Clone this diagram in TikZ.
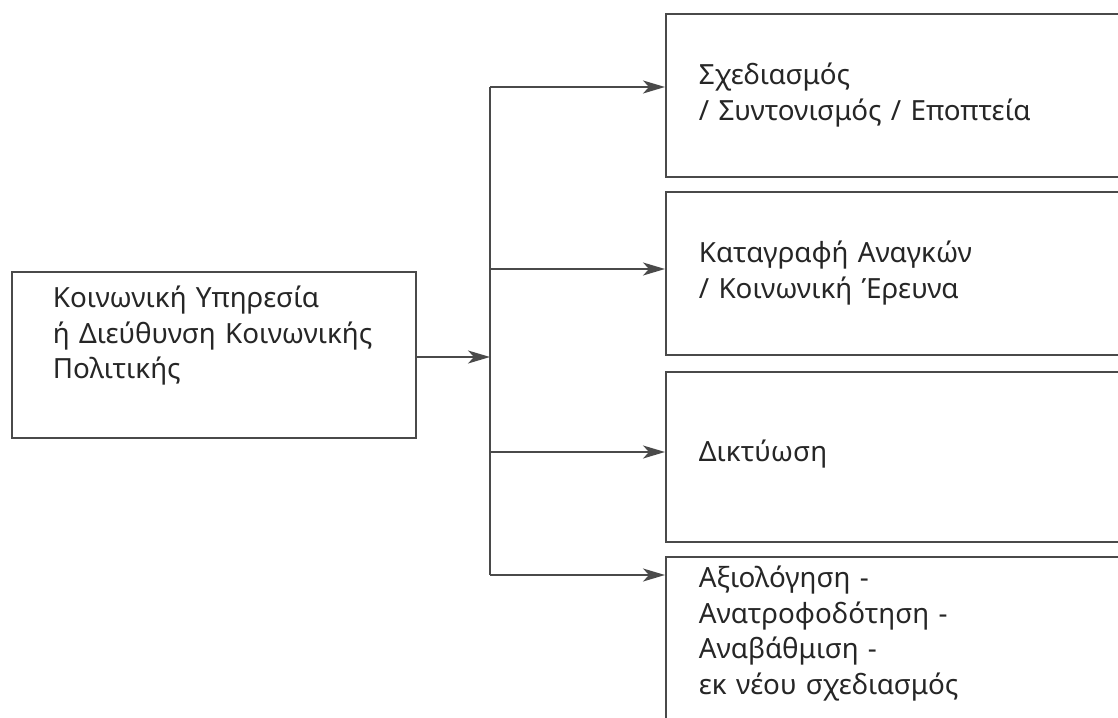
\documentclass[tikz,border=0pt]{standalone}
\usepackage{fontspec}
\setmainfont{Noto Sans}
\usepackage{tikz}
\usetikzlibrary{arrows.meta}
\usetikzlibrary{positioning}
\definecolor{ink}{HTML}{4A4A4A}
\tikzset{box/.style={draw=ink, line width=0.9pt, rectangle, align=left, anchor=north west, inner ysep=0pt, inner xsep=16.5pt, text width=204.5pt, text=black!85, font=\fontsize{13.9}{17.75}\selectfont}}
\tikzset{arr/.style={draw=ink, line width=0.9pt, -{Stealth[length=11pt,width=6.5pt,inset=3pt]}}}

\begin{document}
\begin{tikzpicture}[x=0.5pt, y=-0.5pt]
\useasboundingbox (0,0) rectangle (1118,717);
\clip (0,0) rectangle (1118,717);

% source
\node[box, inner xsep=20.5pt, text width=161pt, text height=18pt, text depth=65pt] (src) at (11,271)
  {Κοινωνική Υπηρεσία\\\mbox{ή Διεύθυνση Κοινωνικής}\\Πολιτικής};

% tasks
\node[box, text height=35.5pt, text depth=46pt] (r1) at (665,13)
  {Σχεδιασμός\\/ Συντονισμός / Εποπτεία};
\node[box, text height=35.5pt, text depth=46pt] (r2) at (665,191)
  {Καταγραφή Αναγκών\\/ Κοινωνική Έρευνα};
\node[box, text height=45pt, text depth=40pt] (r3) at (665,371)
  {Δικτύωση};
\node[box, text height=15.5pt, text depth=86.5pt] (r4) at (665,556)
  {Αξιολόγηση -\\Ανατροφοδότηση -\\Αναβάθμιση -\\εκ νέου σχεδιασμός};

\coordinate (bus) at (490,357);
\draw[arr] (bus -| src.east) -- (bus);

\foreach \i/\y in {1/87, 2/269, 3/452, 4/575}
  {
 \coordinate (b\i) at (490,\y);
 \draw[arr] (b\i) -- (b\i -| r\i.west);
 }
\draw[draw=ink, line width=0.9pt] (b1) -- (b4);

\end{tikzpicture}
\end{document}
